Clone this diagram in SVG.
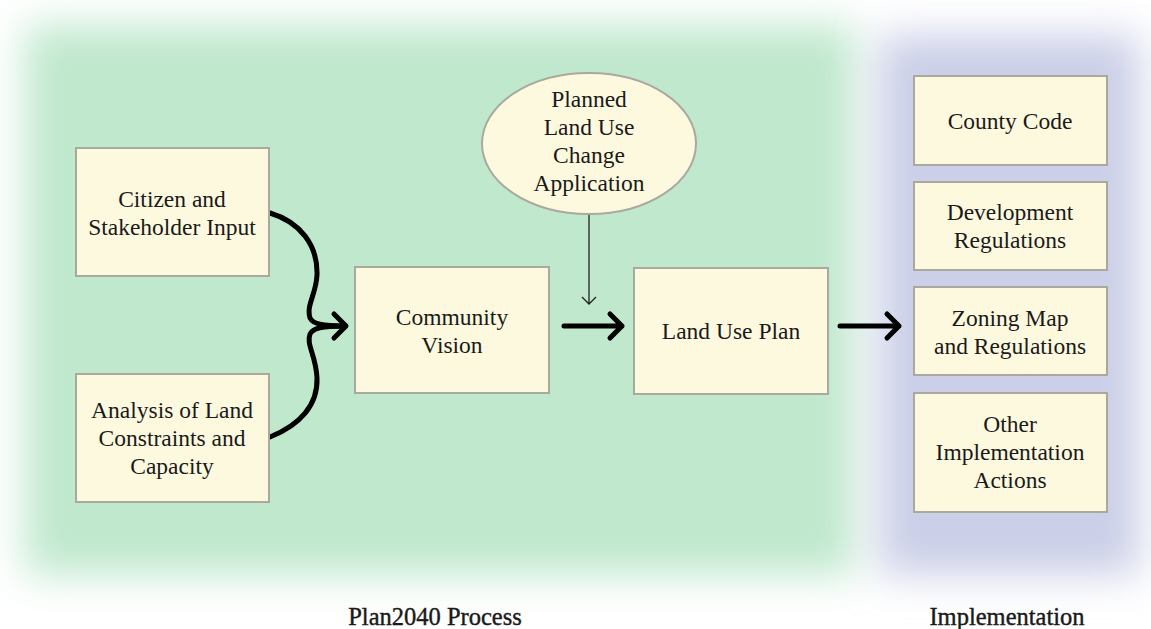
<svg xmlns="http://www.w3.org/2000/svg" width="1151" height="629" viewBox="0 0 1151 629">
<defs>
<filter id="blur" x="-20%" y="-20%" width="140%" height="140%"><feGaussianBlur stdDeviation="20"/></filter>
<style>
.box{fill:#fdf9df;stroke:#aaa99e;stroke-width:2}
text{font-family:'Liberation Serif','Times New Roman',serif;fill:#1a1a1a;text-anchor:middle}
.t{font-size:23.5px}
.lbl{font-size:24.5px}
.thick{fill:none;stroke:#000;stroke-width:5;stroke-linecap:round;stroke-linejoin:round}
.thin{fill:none;stroke:#222;stroke-width:1.3}
</style>
</defs>
<rect width="1151" height="629" fill="#ffffff"/>
<g id="background">
<rect x="25" y="25" width="830" height="550" fill="#bfe8cd" filter="url(#blur)"/>
<rect x="878" y="35" width="262" height="540" fill="#cbcfe7" filter="url(#blur)"/>
</g>
<g id="connectors">
<path class="thick" d="M270,213 C300,222 318,245 317,275 C316,295 306,305 310,318 C313,324 322,326 345,326"/>
<path class="thick" d="M270,437 C300,425 318,405 317,378 C316,355 306,345 310,334 C313,328 322,326 345,326"/>
<path class="thick" d="M334,314 L346,326 L334,338"/>
<path class="thick" d="M564,326 L622,326 M610,314 L622,326 L610,338"/>
<path class="thick" d="M840,326 L899,326 M887,314 L899,326 L887,338"/>
<path class="thin" d="M589,214 L589,304 M582,297 L589,304 L596,297"/>
</g>
<g id="citizen"><rect class="box" x="76" y="148" width="193" height="128"/>
<text class="t" x="172" y="207">Citizen and</text><text class="t" x="172" y="235">Stakeholder Input</text></g>
<g id="analysis"><rect class="box" x="76" y="374" width="193" height="128"/>
<text class="t" x="172" y="418">Analysis of Land</text><text class="t" x="172" y="446">Constraints and</text><text class="t" x="172" y="474">Capacity</text></g>
<g id="vision"><rect class="box" x="355" y="267" width="194" height="126"/>
<text class="t" x="452" y="325">Community</text><text class="t" x="452" y="353">Vision</text></g>
<g id="application"><ellipse cx="589" cy="143.5" rx="107" ry="70.5" fill="#fdf9df" stroke="#aaa99e" stroke-width="2"/>
<text class="t" x="589" y="107">Planned</text><text class="t" x="589" y="135">Land Use</text><text class="t" x="589" y="163">Change</text><text class="t" x="589" y="191">Application</text></g>
<g id="landuse"><rect class="box" x="634" y="268" width="194" height="126"/>
<text class="t" x="731" y="339">Land Use Plan</text></g>
<g id="county"><rect class="box" x="914" y="76" width="193" height="89"/>
<text class="t" x="1010" y="129">County Code</text></g>
<g id="development"><rect class="box" x="914" y="182" width="193" height="88"/>
<text class="t" x="1010" y="220">Development</text><text class="t" x="1010" y="248">Regulations</text></g>
<g id="zoning"><rect class="box" x="914" y="287" width="193" height="88"/>
<text class="t" x="1010" y="326">Zoning Map</text><text class="t" x="1010" y="354">and Regulations</text></g>
<g id="other"><rect class="box" x="914" y="393" width="193" height="119"/>
<text class="t" x="1010" y="432">Other</text><text class="t" x="1010" y="460">Implementation</text><text class="t" x="1010" y="488">Actions</text></g>
<g id="labels">
<text class="lbl" x="435" y="625" stroke="#1a1a1a" stroke-width="0.4">Plan2040 Process</text>
<text class="lbl" x="1007" y="625" stroke="#1a1a1a" stroke-width="0.4">Implementation</text>
</g>
</svg>
